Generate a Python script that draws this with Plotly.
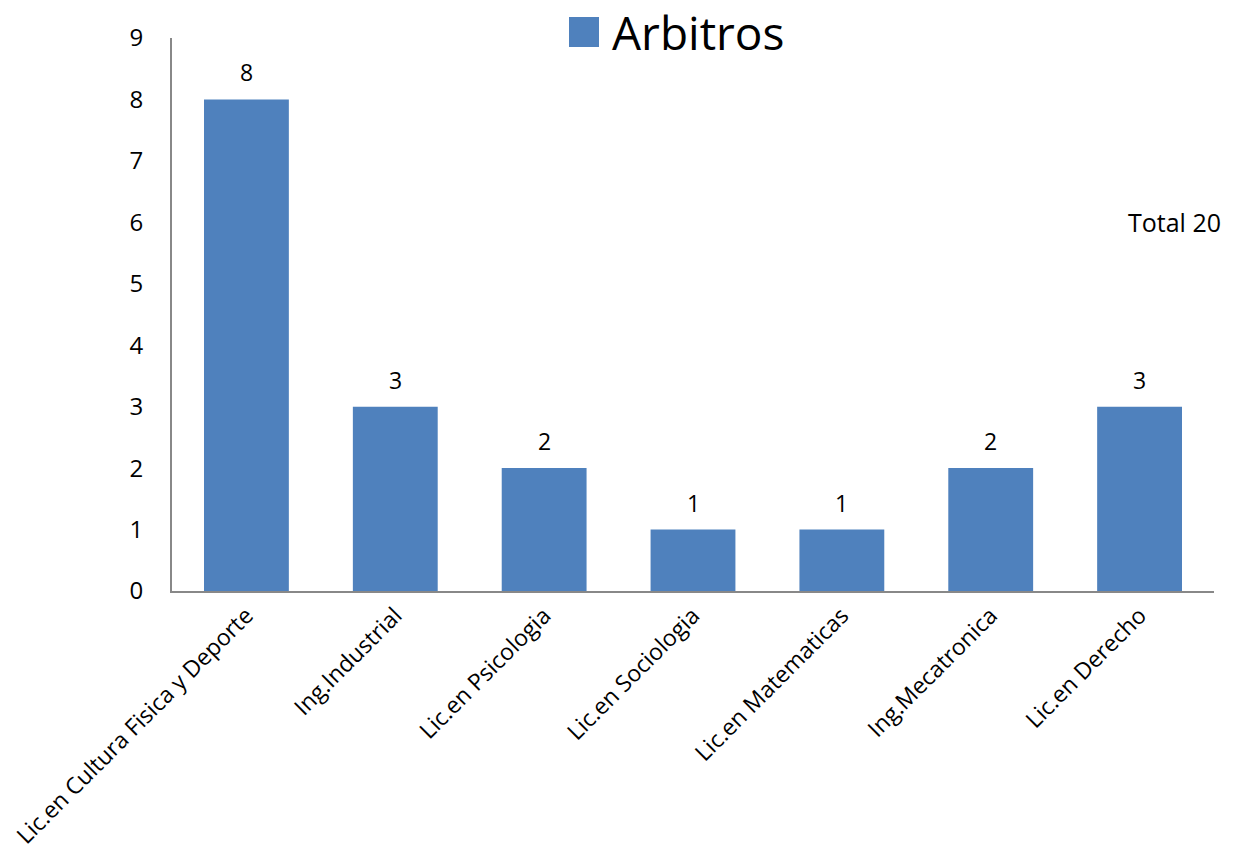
import plotly.graph_objects as go

categories = ["Lic.en Cultura Fisica y Deporte", "Ing.Industrial", "Lic.en Psicologia",
              "Lic.en Sociologia", "Lic.en Matematicas", "Ing.Mecatronica", "Lic.en Derecho"]
values = [8, 3, 2, 1, 1, 2, 3]
series_name = "Arbitros"
total_label = "Total 20"

FONT = "Open Sans"
BLUE = "#4F81BD"

# page body has an 8px margin; size the figure so it fits the 1234x857 window
OFF = 8
W, H = 1234 - OFF, 857 - OFF
L, R, T, B = 172 - OFF, 20, 38 - OFF, 266
pw, ph = W - L - R, H - T - B
def px(x): return (x - OFF - L) / pw
def py(y): return (H - B - (y - OFF)) / ph

fig = go.Figure()
fig.add_trace(go.Bar(
    x=categories, y=values, name=series_name,
    marker=dict(color=BLUE, line=dict(width=0)),
    cliponaxis=False, width=0.57, showlegend=False,
))

annotations = [
    dict(x=c, y=v, text=str(v), xref="x", yref="y", showarrow=False,
         yanchor="bottom", yshift=9, font=dict(family=FONT, size=23, color="black"))
    for c, v in zip(categories, values)
]
annotations += [
    dict(text=series_name, xref="paper", yref="paper", x=px(610), y=py(32),
         xanchor="left", yanchor="middle", showarrow=False,
         font=dict(family=FONT, size=46)),
    dict(text=total_label, xref="paper", yref="paper", x=px(1223), y=py(222),
         xanchor="right", yanchor="middle", showarrow=False,
         font=dict(family=FONT, size=25)),
]

fig.update_layout(
    width=W, height=H,
    margin=dict(l=L, r=R, t=T, b=B, autoexpand=False),
    paper_bgcolor="white", plot_bgcolor="white",
    font=dict(family=FONT, color="black"),
    showlegend=False,
    xaxis=dict(tickangle=-45, tickfont=dict(family=FONT, size=23),
               showline=True, linecolor="#888888", linewidth=2, ticks="",
               showgrid=False, automargin=False),
    yaxis=dict(range=[0, 9], dtick=1, tickfont=dict(family=FONT, size=24),
               showline=True, linecolor="#888888", linewidth=2, ticks="",
               showgrid=False, zeroline=False, ticklabelstandoff=22, automargin=False),
    shapes=[dict(type="rect", xref="paper", yref="paper",
                 x0=px(569), x1=px(599), y0=py(47), y1=py(17),
                 fillcolor=BLUE, line=dict(width=0))],
    annotations=annotations,
)

fig.write_html("out.html")
